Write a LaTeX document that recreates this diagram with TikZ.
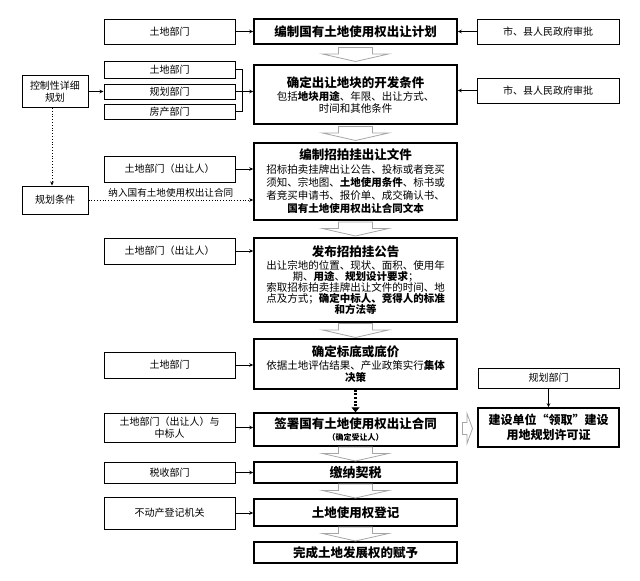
\documentclass[tikz,border=0pt]{standalone}
\usepackage{fontspec}
\setmainfont{Noto Sans CJK SC}
\usetikzlibrary{arrows.meta,calc}
\tikzset{
 mbox/.style={draw, line width=1.5pt, inner sep=0pt, align=center, minimum width=203pt, font=\fontsize{10.5}{11.5}\selectfont},
 lbox/.style={draw, line width=1pt, inner sep=0pt, align=center, font=\fontsize{10}{12}\selectfont},
 arr/.style={-{Stealth[length=4pt,width=3.5pt]}, line width=0.8pt},
 dotarr/.style={arr, dotted},
 hdown/.pic={\draw[gray!70, line width=0.8pt, fill=white] (-17,-7) -- (17,-7) -- (17,-0.5) -- (33,-0.5) -- (0,7) -- (-33,-0.5) -- (-17,-0.5) -- cycle;},
 hright/.pic={\draw[gray!70, line width=0.8pt, fill=white] (-5,-6) -- (-0.5,-6) -- (-0.5,-15) -- (5,0) -- (-0.5,15) -- (-0.5,6) -- (-5,6) -- cycle;},
}
\newcommand\ttl[1]{{\fontsize{12.5}{14}\selectfont\bfseries #1}}
\begin{document}
\begin{tikzpicture}[x=1pt,y=-1pt]
\useasboundingbox (0,0) rectangle (640,581);
% main column
\node[mbox, minimum height=25pt] (m1) at (355.5,31.5) {\ttl{编制国有土地使用权出让计划}};
\node[mbox, minimum height=59pt] (m2) at (355.5,94.5) {\ttl{确定出让地块的开发条件}\\[2pt]包括\textbf{地块用途}、年限、出让方式、\\时间和其他条件};
\node[mbox, minimum height=77pt, font=\fontsize{10.5}{13.3}\selectfont] (m3) at (355.5,181.5) {\ttl{编制招拍挂出让文件}\\招标拍卖挂牌出让公告、投标或者竞买\\须知、宗地图、\textbf{土地使用条件}、标书或\\者竞买申请书、报价单、成交确认书、\\\textbf{国有土地使用权出让合同文本}};
\node[mbox, minimum height=84pt, font=\fontsize{10.5}{11}\selectfont] (m4) at (355.5,280) {\ttl{发布招拍挂公告}\\[2pt]出让宗地的位置、现状、面积、使用年\\期、\textbf{用途}、\textbf{规划设计要求}；\\索取招标拍卖挂牌出让文件的时间、地\\点及方式；\textbf{确定中标人、竞得人的标准}\\\textbf{和方法等}};
\node[mbox, minimum height=50pt] (m5) at (355.5,364) {\ttl{确定标底或底价}\\[2pt]依据土地评估结果、产业政策实行\textbf{集体}\\\textbf{决策}};
\node[mbox, minimum height=33pt] (m6) at (355.5,429.5) {\ttl{签署国有土地使用权出让合同}\\{\fontsize{8}{9}\selectfont\bfseries （确定受让人）}};
\node[mbox, minimum height=21pt] (m7) at (355.5,472.5) {{\fontsize{13}{14}\selectfont\bfseries 缴纳契税}};
\node[mbox, minimum height=27pt] (m8) at (355.5,512.5) {\ttl{土地使用权登记}};
\node[mbox, minimum height=21pt] (m9) at (355.5,552.5) {\ttl{完成土地发展权的赋予}};
% hollow arrows
\pic at ($(m1.south)!.5!(m2.north)$) {hdown};
\pic at ($(m2.south)!.5!(m3.north)$) {hdown};
\pic at ($(m3.south)!.5!(m4.north)$) {hdown};
\pic at ($(m4.south)!.5!(m5.north)$) {hdown};
\pic at ($(m6.south)!.5!(m7.north)$) {hdown};
\pic at ($(m7.south)!.5!(m8.north)$) {hdown};
\pic at ($(m8.south)!.5!(m9.north)$) {hdown};
\draw[line width=2.5pt, dash pattern=on 2pt off 1.6pt, -{Triangle[length=5pt,width=8pt]}] (m5.south) -- (m6.north);
% left boxes
\node[lbox, minimum width=131pt, minimum height=25pt] (l1) at (169.5,31.5) {土地部门};
\node[lbox, minimum width=131pt, minimum height=17pt] (l2a) at (169.5,69.5) {土地部门};
\node[lbox, minimum width=131pt, minimum height=15pt] (l2b) at (169.5,91.5) {规划部门};
\node[lbox, minimum width=131pt, minimum height=15pt] (l2c) at (169.5,111.5) {房产部门};
\node[lbox, minimum width=131pt, minimum height=26pt] (l3) at (169.5,169) {土地部门（出让人）};
\node[lbox, minimum width=131pt, minimum height=26pt] (l4) at (169.5,251) {土地部门（出让人）};
\node[lbox, minimum width=131pt, minimum height=26pt] (l5) at (169.5,365) {土地部门};
\node[lbox, minimum width=131pt, minimum height=29pt, font=\fontsize{10}{11.5}\selectfont] (l6) at (169.5,427.5) {土地部门（出让人）与\\中标人};
\node[lbox, minimum width=131pt, minimum height=21pt] (l7) at (169.5,472.5) {税收部门};
\node[lbox, minimum width=131pt, minimum height=32pt] (l8) at (169.5,513) {不动产登记机关};
\node[lbox, minimum width=66pt, minimum height=32pt, font=\fontsize{10}{11.5}\selectfont] (ctrl) at (55,91.5) {控制性详细\\规划};
\node[lbox, minimum width=66pt, minimum height=28pt] (gh) at (55,200) {规划条件};
% right boxes
\node[lbox, minimum width=142pt, minimum height=25pt] (r1) at (548,31.5) {市、县人民政府审批};
\node[lbox, minimum width=142pt, minimum height=25pt] (r2) at (548,90.5) {市、县人民政府审批};
\node[lbox, minimum width=141pt, minimum height=20pt] (r3) at (548.5,378) {规划部门};
\node[draw, line width=1.5pt, inner sep=0pt, align=center, minimum width=141pt, minimum height=39pt, font=\fontsize{12}{15}\selectfont\bfseries] (r4) at (548.5,427.5) {建设单位“领取”建设\\用地规划许可证};
\pic at ($(m6.east)!.5!(r4.west)$) {hright};
% connectors
\draw[arr] (l1.east) -- (m1.west);
\draw[line width=0.8pt] (l2a.east) -- ++(7,0) |- (l2c.east);
\draw[arr] (l2b.east) -- (m2.west |- l2b.east);
\draw[arr] (ctrl.east) -- (l2b.west);
\draw[dotarr] ([xshift=-3pt]ctrl.south) -- ([xshift=-3pt]gh.north);
\draw[dotarr] (gh.east) -- node[above=-1pt, font=\fontsize{9.6}{11}\selectfont] (lbl) {纳入国有土地使用权出让合同} (m3.west |- gh.east);
\draw[arr] (l3.east) -- (m3.west |- l3.east);
\draw[arr] (l4.east) -- (m4.west |- l4.east);
\draw[arr] (l5.east) -- (m5.west |- l5.east);
\draw[arr] (l6.east) -- (m6.west |- l6.east);
\draw[arr] (l7.east) -- (m7.west);
\draw[arr] (l8.east) -- (m8.west |- l8.east);
\draw[arr] (r1.west) -- (m1.east);
\draw[arr] (r2.west) -- (m2.east |- r2.west);
\draw[arr] (r3.south) -- (r4.north);
\end{tikzpicture}
\end{document}
